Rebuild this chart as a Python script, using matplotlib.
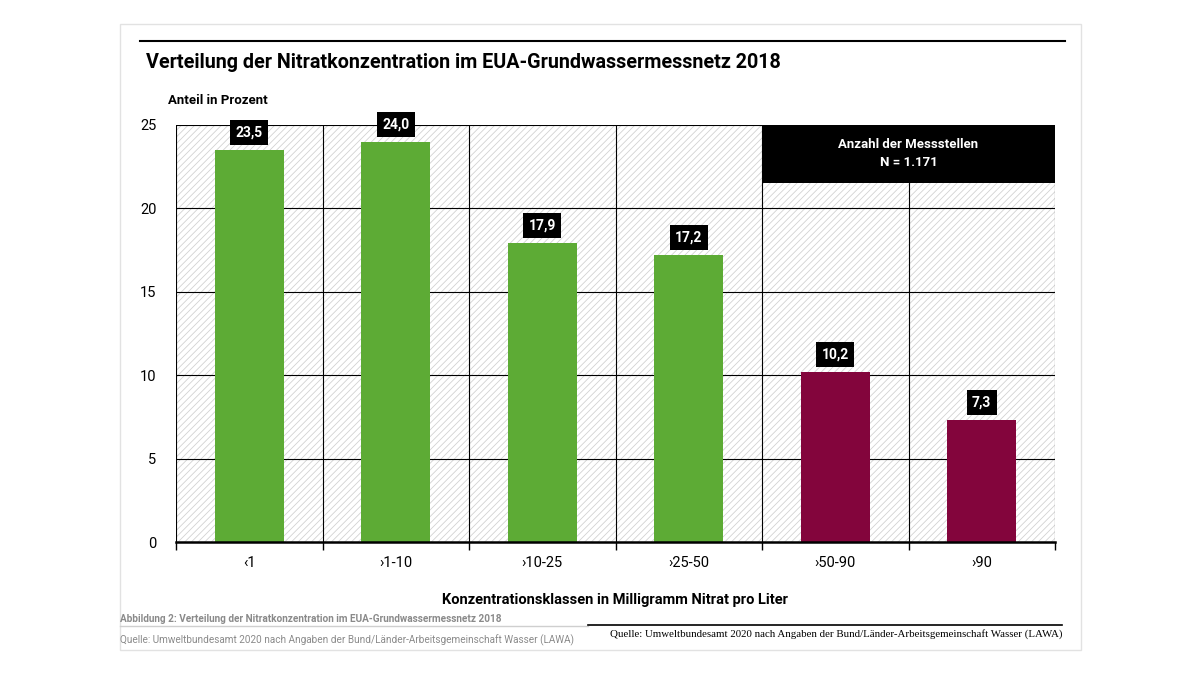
import matplotlib.pyplot as plt
from matplotlib.patches import Rectangle
import numpy as np

plt.rcParams['font.family'] = ['Roboto', 'DejaVu Sans']
plt.rcParams['hatch.linewidth'] = 0.6

categories = ["<1", ">1-10", ">10-25", ">25-50", ">50-90", ">90"]
values = [23.5, 24.0, 17.9, 17.2, 10.2, 7.3]
colors = ["#5dab35", "#5dab35", "#5dab35", "#5dab35", "#83053c", "#83053c"]
labels = ["23,5", "24,0", "17,9", "17,2", "10,2", "7,3"]
yticks = [0, 5, 10, 15, 20, 25]

fig = plt.figure(figsize=(12, 6.75), dpi=100)
fig.patch.set_facecolor("white")

# card frame
fig.patches.append(Rectangle((120 / 1200, 1 - 650 / 675), 961 / 1200, 626 / 675,
                             transform=fig.transFigure, facecolor="white",
                             edgecolor="#e2e2e2", linewidth=1, zorder=-5))
# top rule
fig.add_artist(plt.Line2D([140 / 1200, 1065 / 1200], [1 - 41 / 675, 1 - 41 / 675],
                          transform=fig.transFigure, color="black", linewidth=1.5))

fig.text(146 / 1200, 1 - 62 / 675, "Verteilung der Nitratkonzentration im EUA-Grundwassermessnetz 2018",
         fontsize=14.2, fontweight="bold", va="center", ha="left")
fig.text(168 / 1200, 1 - 100 / 675, "Anteil in Prozent", fontsize=9.5, fontweight="bold",
         va="center", ha="left")

ax = fig.add_axes([176 / 1200, 1 - 542 / 675, 879 / 1200, 417 / 675])
ax.patch.set_alpha(0)
x = np.arange(len(categories))
ax.set_xlim(-0.5, len(categories) - 0.5)
ax.set_ylim(0, 25)

# hatched background
ax.add_patch(Rectangle((-0.5, 0), len(categories), 25, facecolor="white",
                       edgecolor="#d2d2d2", hatch="/////", linewidth=0, zorder=0))

for yv in yticks[1:]:
    ax.axhline(yv, color="black", linewidth=0.8, zorder=1)
for xb in np.arange(-0.5, len(categories), 1.0):
    ax.axvline(xb, color="black", linewidth=0.8, zorder=1)

ax.bar(x, values, width=0.47, color=colors, zorder=2)

for xi, v, lab in zip(x, values, labels):
    ax.text(xi, v + 1.05, lab, ha="center", va="center", color="white",
            fontsize=10, fontweight="bold", zorder=4,
            bbox=dict(boxstyle="square,pad=0.4", facecolor="black", edgecolor="none"))

# N box
ax.add_patch(Rectangle((3.5, 21.55), 2.0, 3.45, facecolor="black", edgecolor="none", zorder=3))
ax.text(4.5, 23.3, "Anzahl der Messstellen\nN = 1.171", ha="center", va="center",
        color="white", fontsize=9.5, fontweight="bold", zorder=4, linespacing=1.5)

ax.set_yticks(yticks)
ax.set_yticklabels([str(v) for v in yticks], fontsize=10.5)
ax.tick_params(axis="y", length=0, pad=14)
ax.set_xticks(np.arange(-0.5, len(categories), 1.0))
ax.set_xticklabels([])
ax.tick_params(axis="x", length=6, width=1, direction="out", color="black")
for xi, c in zip(x, categories):
    ax.text(xi, -1.25, c.replace("<", "‹").replace(">", "›"), ha="center", va="center",
            fontsize=10.5)

for s in ["top", "right", "left"]:
    ax.spines[s].set_visible(False)
ax.spines["bottom"].set_linewidth(1.8)

fig.text(615 / 1200, 1 - 600 / 675, "Konzentrationsklassen in Milligramm Nitrat pro Liter",
         fontsize=10.5, fontweight="bold", ha="center", va="center")

# footnotes
fig.text(120 / 1200, 1 - 619 / 675,
         "Abbildung 2: Verteilung der Nitratkonzentration im EUA-Grundwassermessnetz 2018",
         fontsize=7.2, fontweight="bold", color="#8a8a8a", ha="left", va="center")
fig.add_artist(plt.Line2D([120 / 1200, 588 / 1200], [1 - 626 / 675, 1 - 626 / 675],
                          transform=fig.transFigure, color="#cfcfcf", linewidth=1))
fig.text(120 / 1200, 1 - 640 / 675,
         "Quelle: Umweltbundesamt 2020 nach Angaben der Bund/Länder-Arbeitsgemeinschaft Wasser (LAWA)",
         fontsize=7.2, color="#8a8a8a", ha="left", va="center")
fig.add_artist(plt.Line2D([588 / 1200, 1062 / 1200], [1 - 625 / 675, 1 - 625 / 675],
                          transform=fig.transFigure, color="black", linewidth=1.2))
fig.text(1062 / 1200, 1 - 634 / 675,
         "Quelle: Umweltbundesamt 2020 nach Angaben der Bund/Länder-Arbeitsgemeinschaft Wasser (LAWA)",
         fontsize=7.8, family="Liberation Serif", color="black", ha="right", va="center")

fig.savefig("out.png", dpi=100)
